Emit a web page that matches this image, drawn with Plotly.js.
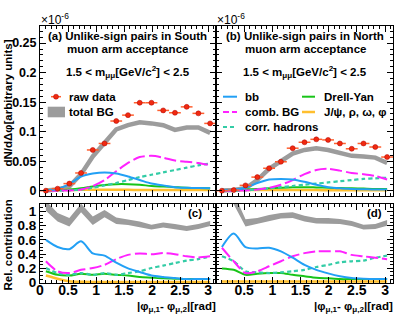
<!DOCTYPE html>
<html>
<head>
<meta charset="utf-8">
<script src="https://cdn.plot.ly/plotly-3.0.1.min.js"></script>
<style>html,body{margin:0;padding:0;background:#fff;}#chart{width:399px;height:318px;}</style>
</head>
<body>
<div id="chart"></div>
<script>
// bin centres of |phi1 - phi2| [rad]
const xBins = [0.105, 0.314, 0.524, 0.733, 0.942, 1.152, 1.361, 1.571, 1.780, 1.990, 2.199, 2.409, 2.618, 2.827, 3.037];

// (a) South, units of 1e-6
const rawA  = [0.000, 0.0034, 0.012, 0.030, 0.069, 0.080, 0.118, 0.128, 0.149, 0.149, 0.136, 0.132, 0.142, 0.131, 0.114];
const bgA   = [0.0005, 0.002, 0.007, 0.028, 0.058, 0.080, 0.104, 0.111, 0.116, 0.114, 0.111, 0.103, 0.107, 0.107, 0.098];
const bbA   = [0.0005, 0.003, 0.011, 0.024, 0.029, 0.031, 0.029, 0.024, 0.018, 0.012, 0.009, 0.006, 0.005, 0.0045, 0.004];
const combA = [0.0, 0.0, 0.0005, 0.002, 0.008, 0.018, 0.033, 0.047, 0.057, 0.059, 0.056, 0.051, 0.049, 0.047, 0.043];
const corrA = [0.0, 0.0, 0.0005, 0.002, 0.005, 0.009, 0.013, 0.018, 0.023, 0.027, 0.031, 0.035, 0.039, 0.043, 0.046];
const dyA   = [0.0005, 0.001, 0.002, 0.004, 0.007, 0.0095, 0.011, 0.011, 0.010, 0.008, 0.007, 0.006, 0.005, 0.0045, 0.004];
const jpsiA = [0.001, 0.001, 0.0012, 0.0015, 0.0015, 0.0015, 0.0015, 0.0015, 0.0012, 0.0012, 0.001, 0.001, 0.001, 0.001, 0.001];

// (b) North, units of 1e-6
const rawB  = [0.000, 0.001, 0.009, 0.023, 0.038, 0.049, 0.072, 0.082, 0.087, 0.086, 0.080, 0.071, 0.080, 0.074, 0.057];
const bgB   = [0.0005, 0.001, 0.004, 0.018, 0.037, 0.049, 0.063, 0.069, 0.072, 0.069, 0.064, 0.059, 0.058, 0.056, 0.047];
const bbB   = [0.0005, 0.0015, 0.005, 0.013, 0.019, 0.020, 0.019, 0.015, 0.010, 0.006, 0.004, 0.003, 0.0025, 0.002, 0.002];
const combB = [0.0, 0.0, 0.0005, 0.002, 0.005, 0.010, 0.018, 0.028, 0.035, 0.037, 0.034, 0.030, 0.028, 0.025, 0.019];
const corrB = [0.0, 0.0, 0.0005, 0.002, 0.004, 0.006, 0.008, 0.010, 0.012, 0.014, 0.016, 0.018, 0.020, 0.021, 0.022];
const dyB   = [0.0005, 0.001, 0.002, 0.003, 0.004, 0.005, 0.0058, 0.006, 0.0055, 0.005, 0.0045, 0.004, 0.0035, 0.003, 0.003];
const jpsiB = [0.0008, 0.0008, 0.001, 0.001, 0.001, 0.001, 0.001, 0.001, 0.001, 0.0008, 0.0008, 0.0008, 0.0008, 0.0008, 0.0008];

// (c) South relative contributions
const bgLoC = [1.01, 0.86, 0.79, 0.99, 0.81, 0.92, 0.825, 0.81, 0.78, 0.745, 0.775, 0.755, 0.725, 0.755, 0.795];
const bgHiC = [1.15, 0.98, 0.91, 1.11, 0.93, 1.02, 0.915, 0.89, 0.86, 0.815, 0.845, 0.825, 0.795, 0.825, 0.865];
const bbC   = [0.60, 0.50, 0.47, 0.58, 0.41, 0.38, 0.28, 0.20, 0.15, 0.10, 0.08, 0.065, 0.05, 0.05, 0.05];
const combC = [0.30, 0.16, 0.135, 0.18, 0.205, 0.25, 0.33, 0.39, 0.41, 0.40, 0.415, 0.40, 0.37, 0.355, 0.37];
const corrC = [0.205, 0.135, 0.11, 0.135, 0.11, 0.135, 0.11, 0.135, 0.16, 0.205, 0.24, 0.275, 0.31, 0.33, 0.37];
const dyC   = [0.16, 0.11, 0.10, 0.125, 0.11, 0.125, 0.11, 0.10, 0.08, 0.07, 0.06, 0.055, 0.05, 0.05, 0.05];
const jpsiC = [0.10, 0.055, 0.02, 0.012, 0.01, 0.01, 0.01, 0.01, 0.01, 0.01, 0.01, 0.01, 0.01, 0.01, 0.01];

// (d) North relative contributions
const bgLoD = [1.32, 1.10, 0.79, 0.83, 0.87, 0.90, 0.91, 0.86, 0.83, 0.83, 0.825, 0.795, 0.745, 0.755, 0.80];
const bgHiD = [1.48, 1.26, 0.89, 0.91, 0.95, 0.98, 0.99, 0.94, 0.91, 0.91, 0.895, 0.865, 0.815, 0.825, 0.88];
const bbD   = [0.50, 0.69, 0.50, 0.48, 0.49, 0.44, 0.35, 0.25, 0.18, 0.13, 0.09, 0.065, 0.055, 0.05, 0.05];
const combD = [0.49, 0.30, 0.135, 0.16, 0.23, 0.30, 0.37, 0.415, 0.44, 0.44, 0.44, 0.39, 0.37, 0.35, 0.33];
const corrD = [0.37, 0.30, 0.16, 0.145, 0.135, 0.145, 0.16, 0.18, 0.22, 0.25, 0.285, 0.30, 0.31, 0.35, 0.38];
const dyD   = [0.20, 0.18, 0.11, 0.125, 0.135, 0.135, 0.11, 0.09, 0.07, 0.06, 0.05, 0.05, 0.05, 0.05, 0.05];
const jpsiD = [0.015, 0.015, 0.015, 0.015, 0.015, 0.015, 0.015, 0.015, 0.015, 0.015, 0.015, 0.015, 0.015, 0.015, 0.015];

const C = {
  gray: '#9c9c9c', blue: '#22a0f5', mag: '#ff22ff', green: '#18c418',
  orange: '#ffbf2e', teal: '#33cca6', red: '#f02a10', err: '#ff6030'
};
const FONT = 'Liberation Sans, Arial, Helvetica, sans-serif';

function curves(xa, ya, bb, comb, corr, dy, jpsi) {
  const base = {x: xBins, xaxis: xa, yaxis: ya, type: 'scatter', mode: 'lines', hoverinfo: 'skip'};
  return [
    Object.assign({}, base, {y: jpsi, line: {color: C.orange, width: 2.5, shape: 'spline', smoothing: 0.8}}),
    Object.assign({}, base, {y: dy, line: {color: C.green, width: 2, shape: 'spline', smoothing: 0.8}}),
    Object.assign({}, base, {y: corr, line: {color: C.teal, width: 2.2, dash: '4px,3px', shape: 'spline', smoothing: 0.8}}),
    Object.assign({}, base, {y: comb, line: {color: C.mag, width: 2, dash: '12px,4px', shape: 'spline', smoothing: 0.8}}),
    Object.assign({}, base, {y: bb, line: {color: C.blue, width: 2, shape: 'spline', smoothing: 0.8}})
  ];
}
function topPanel(xa, ya, raw, bg, bb, comb, corr, dy, jpsi) {
  const t = [{x: xBins, y: bg, xaxis: xa, yaxis: ya, type: 'scatter', mode: 'lines',
              line: {color: C.gray, width: 4.5}, hoverinfo: 'skip'}];
  t.push(...curves(xa, ya, bb, comb, corr, dy, jpsi));
  t.push({x: xBins, y: raw, xaxis: xa, yaxis: ya, type: 'scatter', mode: 'markers',
          marker: {color: C.red, size: 5, line: {color: '#b00000', width: 0.5}},
          error_x: {type: 'constant', value: 0.105, color: C.err, thickness: 1.5, width: 0},
          cliponaxis: false, hoverinfo: 'skip'});
  return t;
}
function bottomPanel(xa, ya, lo, hi, bb, comb, corr, dy, jpsi) {
  const t = [
    {x: xBins, y: lo, xaxis: xa, yaxis: ya, type: 'scatter', mode: 'lines', line: {width: 0, color: C.gray}, hoverinfo: 'skip'},
    {x: xBins, y: hi, xaxis: xa, yaxis: ya, type: 'scatter', mode: 'lines', line: {width: 0, color: C.gray},
     fill: 'tonexty', fillcolor: C.gray, hoverinfo: 'skip'}
  ];
  t.push(...curves(xa, ya, bb, comb, corr, dy, jpsi));
  return t;
}

const data = [].concat(
  topPanel('x', 'y', rawA, bgA, bbA, combA, corrA, dyA, jpsiA),
  topPanel('x2', 'y2', rawB, bgB, bbB, combB, corrB, dyB, jpsiB),
  bottomPanel('x3', 'y3', bgLoC, bgHiC, bbC, combC, corrC, dyC, jpsiC),
  bottomPanel('x4', 'y4', bgLoD, bgHiD, bbD, combD, corrD, dyD, jpsiD)
);

// layout geometry (pixels -> paper)
const L = 40, R = 393, T = 26, B = 283;
const px = v => (v - L) / (R - L);
const py = v => (B - v) / (B - T);
const splitX = px(216);
const topDom = [py(196), 1];
const botDom = [0, py(204)];

const axBase = {
  showline: true, linecolor: 'black', linewidth: 1, mirror: 'allticks',
  ticks: 'inside', ticklen: 6, tickcolor: 'black', tickwidth: 1,
  showgrid: false, zeroline: false,
  tickfont: {family: FONT, size: 13, color: 'black', weight: 'bold'},
  minor: {ticks: 'inside', ticklen: 3, tickcolor: 'black', tickwidth: 1, showgrid: false}
};
function ax(extra) { return Object.assign(JSON.parse(JSON.stringify(axBase)), extra); }

const xMinor = {ticks: 'inside', ticklen: 3, tickcolor: 'black', tickwidth: 1, showgrid: false, tickmode: 'linear', tick0: 0, dtick: 0.1};

const layout = {
  width: 399, height: 318,
  margin: {l: L, r: 399 - R, t: T, b: 318 - B, pad: 0},
  paper_bgcolor: 'white', plot_bgcolor: 'white', showlegend: false,
  font: {family: FONT, color: 'black'},
  xaxis:  ax({domain: [0, splitX], range: [0, 3.1416], anchor: 'y', tickmode: 'linear', tick0: 0, dtick: 0.5, showticklabels: false, minor: xMinor}),
  yaxis:  ax({domain: topDom, range: [-0.009, 0.279], anchor: 'x', tickmode: 'linear', tick0: 0, dtick: 0.05,
              tickfont: {family: FONT, size: 12.5, color: 'black', weight: 'bold'},
              minor: {ticks: 'inside', ticklen: 3, tickcolor: 'black', showgrid: false, tickmode: 'linear', tick0: 0, dtick: 0.01}}),
  xaxis2: ax({domain: [splitX, 1], range: [0, 3.1416], anchor: 'y2', tickmode: 'linear', tick0: 0, dtick: 0.5, showticklabels: false, minor: xMinor}),
  yaxis2: ax({domain: topDom, range: [-0.009, 0.279], anchor: 'x2', tickmode: 'linear', tick0: 0, dtick: 0.05, showticklabels: false,
              minor: {ticks: 'inside', ticklen: 3, tickcolor: 'black', showgrid: false, tickmode: 'linear', tick0: 0, dtick: 0.01}}),
  xaxis3: ax({domain: [0, splitX], range: [0, 3.1416], anchor: 'y3', tickmode: 'linear', tick0: 0, dtick: 0.5, ticklabelstandoff: -6,
              tickfont: {family: FONT, size: 14, color: 'black', weight: 'bold'}, minor: xMinor}),
  yaxis3: ax({domain: botDom, range: [-0.005, 1.105], anchor: 'x3', tickmode: 'linear', tick0: 0, dtick: 0.2,
              tickfont: {family: FONT, size: 13.5, color: 'black', weight: 'bold'},
              minor: {ticks: 'inside', ticklen: 3, tickcolor: 'black', showgrid: false, tickmode: 'linear', tick0: 0, dtick: 0.05}}),
  xaxis4: ax({domain: [splitX, 1], range: [0, 3.1416], anchor: 'y4', tickmode: 'array', tickvals: [0.5, 1, 1.5, 2, 2.5, 3], ticklabelstandoff: -6,
              tickfont: {family: FONT, size: 14, color: 'black', weight: 'bold'}, minor: xMinor}),
  yaxis4: ax({domain: botDom, range: [-0.005, 1.105], anchor: 'x4', tickmode: 'linear', tick0: 0, dtick: 0.2, showticklabels: false,
              minor: {ticks: 'inside', ticklen: 3, tickcolor: 'black', showgrid: false, tickmode: 'linear', tick0: 0, dtick: 0.05}})
};

const bold = (s, size) => ({family: FONT, size: size || 11.5, color: 'black', weight: 'bold'});
function ann(text, x, y, opts) {
  return Object.assign({text: text, xref: 'paper', yref: 'paper', x: px(x), y: py(y),
    xanchor: 'left', yanchor: 'middle', showarrow: false, font: bold(), borderpad: 0}, opts || {});
}
const xTitle = '|φ<sub>μ,1</sub>- φ<sub>μ,2</sub>|[rad]';
layout.annotations = [
  ann('×10<sup>-6</sup>', 40, 19, {font: {family: FONT, size: 12, color: 'black'}}),
  ann('×10<sup>-6</sup>', 216, 19, {font: {family: FONT, size: 12, color: 'black'}}),
  ann('(a) Unlike-sign pairs in South', 127.5, 36, {xanchor: 'center'}),
  ann('muon arm acceptance', 127.5, 49, {xanchor: 'center'}),
  ann('1.5 < m<sub>μμ</sub>[GeV/c<sup>2</sup>] < 2.5', 127.5, 72, {xanchor: 'center'}),
  ann('(b) Unlike-sign pairs in North', 305, 36, {xanchor: 'center'}),
  ann('muon arm acceptance', 305, 49, {xanchor: 'center'}),
  ann('1.5 < m<sub>μμ</sub>[GeV/c<sup>2</sup>] < 2.5', 305, 72, {xanchor: 'center'}),
  ann('raw data', 68, 96.7),
  ann('total BG', 68, 112),
  ann('bb', 244, 96.7),
  ann('Drell-Yan', 323, 96.7),
  ann('comb. BG', 244, 112),
  ann('J/ψ, ρ, ω, φ', 323, 112),
  ann('corr. hadrons', 244, 127),
  ann('(c)', 195, 213, {xanchor: 'center', font: bold(12)}),
  ann('(d)', 374.5, 213, {xanchor: 'center', font: bold(12)}),
  ann('dN/dΔφ[arbitrary units]', 7.5, 103, {xanchor: 'center', textangle: -90, font: bold(13.5)}),
  ann('Rel. contribution', 7.5, 245, {xanchor: 'center', textangle: -90, font: bold(13)}),
  ann(xTitle, 217, 307, {xanchor: 'right', font: bold(13)}),
  ann(xTitle, 394, 307, {xanchor: 'right', font: bold(13)})
];

function seg(x0, x1, y, color, width, dash) {
  return {type: 'line', xref: 'paper', yref: 'paper', x0: px(x0), x1: px(x1), y0: py(y), y1: py(y),
          line: {color: color, width: width, dash: dash || 'solid'}};
}
layout.shapes = [
  seg(51, 61, 96.7, C.err, 1.5),
  {type: 'circle', xref: 'paper', yref: 'paper', x0: px(53.5), x1: px(58.5), y0: py(94.2), y1: py(99.2),
   fillcolor: C.red, line: {color: '#b00000', width: 0.5}},
  {type: 'rect', xref: 'paper', yref: 'paper', x0: px(47.7), x1: px(65), y0: py(106.7), y1: py(117.3),
   fillcolor: C.gray, line: {width: 0}},
  seg(223, 237, 96.7, C.blue, 2),
  seg(302, 315, 96.7, C.green, 2),
  seg(223, 237, 112, C.mag, 2, '6px,3px'),
  seg(302, 315, 112, C.orange, 2.5),
  seg(223, 237, 127, C.teal, 2.2, '4px,3px')
];

Plotly.newPlot('chart', data, layout, {staticPlot: true, displayModeBar: false});
</script>
</body>
</html>
